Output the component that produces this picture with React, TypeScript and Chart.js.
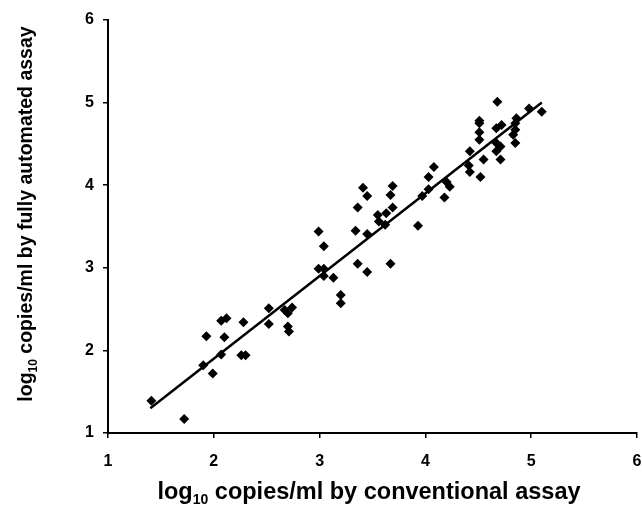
import React, { useEffect, useRef } from "react";
import { Chart, registerables } from "chart.js";

Chart.register(...registerables);

const FONT = '"Liberation Sans", Arial, Helvetica, sans-serif';

// log10 copies/ml by conventional assay
const conventional = [
  1.41, 1.72, 1.9, 1.93, 1.99, 2.07, 2.1, 2.07, 2.12, 2.26,
  2.3, 2.28, 2.52, 2.52, 2.67, 2.74, 2.7, 2.7, 2.71, 2.99,
  3.04, 2.99, 3.04, 3.04, 3.13, 3.2, 3.2, 3.41, 3.45, 3.36,
  3.34, 3.45, 3.36, 3.45, 3.55, 3.56, 3.63, 3.62, 3.69, 3.67,
  3.69, 3.67, 3.93, 3.97, 4.03, 4.03, 4.08, 4.18, 4.2, 4.23,
  4.68, 5.1, 4.98, 4.51, 4.51, 4.51, 4.67, 4.72, 4.86, 4.85,
  4.85, 4.83, 4.85, 4.67, 4.71, 4.67, 4.71, 4.42, 4.55, 4.41,
  4.42, 4.52, 4.51,
];
// log10 copies/ml by fully automated assay
const automated = [
  1.39, 1.17, 1.82, 2.17, 1.72, 1.95, 2.16, 2.36, 2.39, 1.94,
  1.94, 2.34, 2.51, 2.32, 2.49, 2.52, 2.45, 2.29, 2.23, 3.44,
  3.26, 2.99, 2.99, 2.9, 2.88, 2.67, 2.57, 3.97, 3.87, 3.73,
  3.45, 3.41, 3.05, 2.95, 3.64, 3.56, 3.66, 3.52, 3.99, 3.88,
  3.73, 3.05, 3.51, 3.87, 4.1, 3.95, 4.22, 3.85, 4.04, 3.98,
  5.01, 4.89, 4.93, 4.78, 4.64, 4.55, 4.69, 4.73, 4.81, 4.75,
  4.67, 4.61, 4.51, 4.51, 4.47, 4.41, 4.31, 4.41, 4.31, 4.24,
  4.16, 4.1, 4.75,
];

// regression line end points
const fitX = [1.4, 5.1];
const fitY = [1.3, 5.0];

const axisMin = 1;
const axisMax = 6;
const axisStep = 1;

const xTitleParts = ["log", "10", " copies/ml by conventional assay"];
const yTitleParts = ["log", "10", " copies/ml by fully automated assay"];

function drawTitle(
  ctx: CanvasRenderingContext2D,
  parts: string[],
  size: number,
  cx: number,
  cy: number,
  rotate: boolean
) {
  ctx.save();
  ctx.translate(cx, cy);
  if (rotate) ctx.rotate(-Math.PI / 2);
  const main = `bold ${size}px ${FONT}`;
  const sub = `bold ${Math.round(size * 0.6)}px ${FONT}`;
  ctx.font = main;
  const w1 = ctx.measureText(parts[0]).width;
  const w3 = ctx.measureText(parts[2]).width;
  ctx.font = sub;
  const w2 = ctx.measureText(parts[1]).width;
  const total = w1 + w2 + w3;
  let x = -total / 2;
  ctx.fillStyle = "#000";
  ctx.textBaseline = "middle";
  ctx.textAlign = "left";
  ctx.font = main;
  ctx.fillText(parts[0], x, 0);
  x += w1;
  ctx.font = sub;
  ctx.fillText(parts[1], x, size * 0.32);
  x += w2;
  ctx.font = main;
  ctx.fillText(parts[2], x, 0);
  ctx.restore();
}

const titlePlugin = {
  id: "subscriptTitles",
  afterDraw(chart: any) {
    const ctx = chart.ctx as CanvasRenderingContext2D;
    drawTitle(ctx, xTitleParts, 23.5, 369, 493, false);
    drawTitle(ctx, yTitleParts, 19.5, 27, 214, true);
  },
};

export default function App() {
  const ref = useRef<HTMLCanvasElement | null>(null);

  useEffect(() => {
    if (!ref.current) return;
    const points = conventional.map((x, i) => ({ x, y: automated[i] }));
    const fit = fitX.map((x, i) => ({ x, y: fitY[i] }));
    const tickFont = { size: 16, weight: "bold" as const, family: FONT };
    const chart = new Chart(ref.current, {
      type: "scatter",
      data: {
        datasets: [
          {
            type: "line" as any,
            data: fit,
            borderColor: "#000",
            borderWidth: 2.5,
            pointRadius: 0,
            fill: false,
          } as any,
          {
            data: points,
            pointStyle: "rectRot",
            pointRadius: 5,
            backgroundColor: "#000",
            borderColor: "#000",
            borderWidth: 0,
          },
        ],
      },
      options: {
        animation: false,
        responsive: true,
        maintainAspectRatio: false,
        layout: { padding: { top: 20, right: 5, left: 0, bottom: 0 } },
        plugins: { legend: { display: false }, tooltip: { enabled: false } },
        scales: {
          x: {
            type: "linear",
            min: axisMin,
            max: axisMax,
            ticks: { stepSize: axisStep, color: "#000", font: tickFont, padding: 14 },
            grid: { drawOnChartArea: false, drawTicks: true, tickLength: 5, color: "#000", lineWidth: 1.5 },
            border: { display: true, color: "#000", width: 2 },
            afterFit: (s: any) => {
              s.height = 76;
              s.paddingLeft = 0;
              s.paddingRight = 0;
            },
          },
          y: {
            type: "linear",
            min: axisMin,
            max: axisMax,
            ticks: { stepSize: axisStep, color: "#000", font: tickFont, padding: 9 },
            grid: { drawOnChartArea: false, drawTicks: true, tickLength: 5, color: "#000", lineWidth: 1.5 },
            border: { display: true, color: "#000", width: 2 },
            afterFit: (s: any) => {
              s.width = 108;
              s.paddingTop = 0;
              s.paddingBottom = 0;
            },
          },
        },
      },
      plugins: [titlePlugin],
    });
    return () => chart.destroy();
  }, []);

  return (
    <div style={{ position: "absolute", left: 0, top: 0, width: 642, height: 509, background: "#fff" }}>
      <canvas ref={ref} />
    </div>
  );
}
